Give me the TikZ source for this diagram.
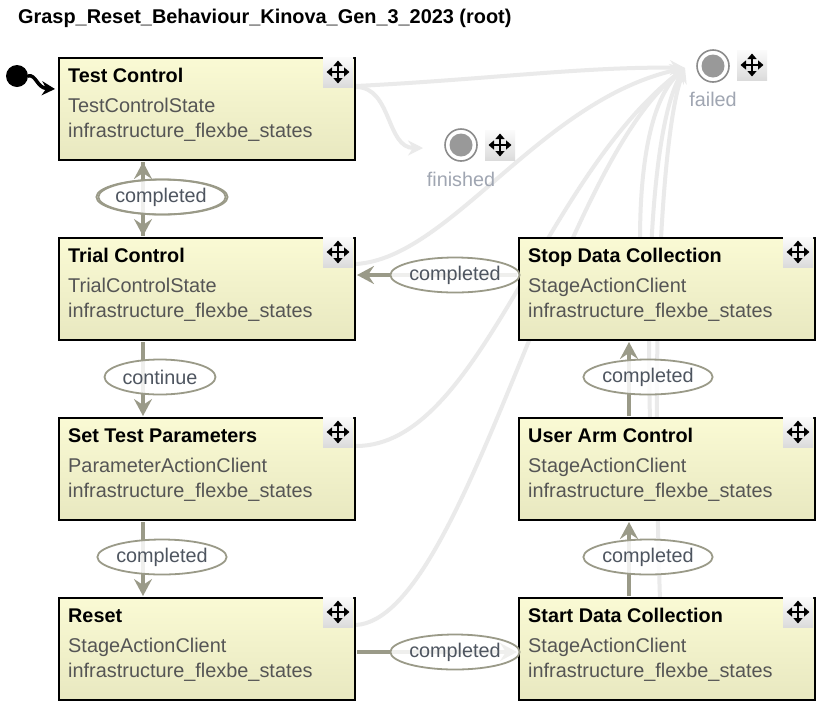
\documentclass[tikz,border=0pt]{standalone}
\usepackage{fontspec}
\setmainfont{Liberation Sans}
\usetikzlibrary{arrows.meta,calc,shapes.geometric}
\definecolor{edgecol}{HTML}{9A9A88}
\definecolor{faint}{HTML}{EAEAEA}
\definecolor{subtext}{HTML}{555555}
\definecolor{labeltext}{HTML}{4E5560}
\definecolor{boxtop}{HTML}{FAFAD4}
\definecolor{boxbot}{HTML}{E8E8C0}
\definecolor{endtext}{HTML}{A0A6B2}
\tikzset{
 statebox/.style={draw=black, line width=2pt, top color=boxtop, bottom color=boxbot, minimum width=296pt, minimum height=102pt, anchor=north west, inner sep=0pt},
 sttitle/.style={font=\fontsize{19.8}{22}\selectfont\bfseries, anchor=base west, inner sep=0pt, text=black},
 stsub/.style={font=\fontsize{19.9}{22}\selectfont, anchor=base west, inner sep=0pt, text=subtext},
 trans/.style={draw=edgecol, line width=4pt, -{Stealth[length=17pt,width=18pt,inset=6pt]}},
 faintline/.style={draw=faint, line width=4pt, -{Stealth[length=15pt,width=15pt,inset=5pt]}},
 lbl/.style={ellipse, draw=edgecol, line width=1.8pt, fill=white, fill opacity=0.85, text opacity=1, minimum width=122pt, minimum height=35pt, inner sep=0pt, font=\fontsize{19.8}{22}\selectfont, text=labeltext},
 iconbg/.style={rectangle, top color=white!97!gray, bottom color=gray!28, minimum size=30pt, inner sep=0pt},
 iconarr/.style={line width=2.2pt, black, {Triangle[length=5.5pt,width=9pt]}-{Triangle[length=5.5pt,width=9pt]}},
 endouter/.style={circle, draw=gray!90, line width=1.6pt, fill=white, minimum size=32pt, inner sep=0pt},
 endinner/.style={circle, fill=gray!80, minimum size=23pt, inner sep=0pt},
 endlbl/.style={font=\fontsize{19.8}{22}\selectfont, text=endtext, inner sep=0pt},
}
\newcommand\moveicon[2]{%
 \node[iconbg] (#1) at (#2) {};
 \draw[iconarr] ($(#1.center)+(-11.5,0)$) -- ($(#1.center)+(11.5,0)$);
 \draw[iconarr] ($(#1.center)+(0,-11.5)$) -- ($(#1.center)+(0,11.5)$);
}
\newcommand\stbox[5]{%
 \node[statebox] (#1) at (#2,#3) {};
 \node[sttitle] (#1-t) at ($(#1.north west)+(10,25)$) {#4};
 \node[stsub] (#1-c) at ($(#1.north west)+(10,55)$) {#5};
 \node[stsub] (#1-p) at ($(#1.north west)+(10,80.5)$) {infrastructure\_flexbe\_states};
 \moveicon{#1-i}{$(#1.north east)+(-18,15)$}
}
\begin{document}
\begin{tikzpicture}[x=1pt,y=-1pt]
\useasboundingbox[fill=white] (0,0) rectangle (821,705);

% title
\node[font=\fontsize{19.9}{22}\selectfont\bfseries, anchor=base west, inner sep=0pt] (title) at (18,23) {Grasp\_Reset\_Behaviour\_Kinova\_Gen\_3\_2023 (root)};

% coordinates of the outcome targets
\coordinate (failin) at (685,68);
\coordinate (finin) at (423,148);

% faint outcome connectors (drawn first, behind everything)
\coordinate (tcf) at (356,86);
\coordinate (tcfin) at (356,87);
\coordinate (trf) at (356,264);
\coordinate (stpf) at (356,446);
\coordinate (rsf) at (356,625);
\draw[faintline] (tcf) .. controls (480,80) and (590,66) .. (failin);
\draw[faintline] (tcfin) .. controls (392,87) and (386,148) .. (finin);
\draw[faintline] (trf) .. controls (450,258) and (540,100) .. (failin);
\draw[faintline] (stpf) .. controls (480,446) and (540,180) .. (failin);
\draw[faintline] (rsf) .. controls (465,618) and (555,170) .. (failin);
\coordinate (sdcf) at (640,240);
\coordinate (uacf) at (650,420);
\coordinate (startf) at (660,600);
\draw[faintline] (sdcf) .. controls (640,150) and (655,95) .. (failin);
\draw[faintline] (uacf) .. controls (645,220) and (660,110) .. (failin);
\draw[faintline] (startf) .. controls (650,300) and (665,120) .. (failin);

% state boxes
\stbox{tc}{58}{57}{Test Control}{TestControlState}
\stbox{tr}{58}{237}{Trial Control}{TrialControlState}
\stbox{stp}{58}{417}{Set Test Parameters}{ParameterActionClient}
\stbox{rs}{58}{597}{Reset}{StageActionClient}
\stbox{sdc}{518}{237}{Stop Data Collection}{StageActionClient}
\stbox{uac}{518}{417}{User Arm Control}{StageActionClient}
\stbox{start}{518}{597}{Start Data Collection}{StageActionClient}

% outcomes
\node[endouter] (failed) at (713,66) {};
\node[endinner] (failed-in) at (failed.center) {};
\moveicon{failed-i}{752,65}
\node[endlbl] (failed-l) at (713,99) {failed};
\node[endouter] (finished) at (461,145) {};
\node[endinner] (finished-in) at (finished.center) {};
\moveicon{finished-i}{500,145}
\node[endlbl] (finished-l) at (461,179) {finished};

% initial state
\node[circle, fill=black, minimum size=22pt, inner sep=0pt] (init) at (17,76) {};
\coordinate (initend) at (55,89);
\draw[line width=3.5pt, -{Stealth[length=13pt,width=14pt]}] (init.east) .. controls (36,74) and (37,88) .. (initend);

% transitions
\draw[trans] ($(tc.south west)+(85,1)$) -- ($(tr.north west)+(85,-1)$);
\draw[trans] ($(tr.north west)+(85,-1)$) -- ($(tc.south west)+(85,1)$);
\draw[trans] ($(tr.south west)+(85,1)$) -- ($(stp.north west)+(85,-1)$);
\draw[trans] ($(stp.south west)+(85,1)$) -- ($(rs.north west)+(85,-1)$);
\draw[trans] ($(rs.north east)+(1,55)$) -- ($(start.north west)+(-1,55)$);
\draw[trans] ($(start.north west)+(111,-1)$) -- ($(uac.south west)+(111,1)$);
\draw[trans] ($(uac.north west)+(111,-1)$) -- ($(sdc.south west)+(111,1)$);
\draw[trans] ($(sdc.north west)+(-1,38)$) -- ($(tr.north east)+(1,38)$);

% transition labels
\node[lbl] (l1a) at (161,197) {completed};
\node[lbl, fill opacity=0] (l1b) at (163,197) {\phantom{completed}};
\node[lbl, minimum width=111pt] (l2) at (160,377) {continue};
\node[lbl] (l3) at (162,557) {completed};
\node[lbl] (l4) at (455,652) {completed};
\node[lbl] (l5) at (648,557) {completed};
\node[lbl] (l6) at (648,377) {completed};
\node[lbl] (l7) at (455,275) {completed};
\end{tikzpicture}
\end{document}
